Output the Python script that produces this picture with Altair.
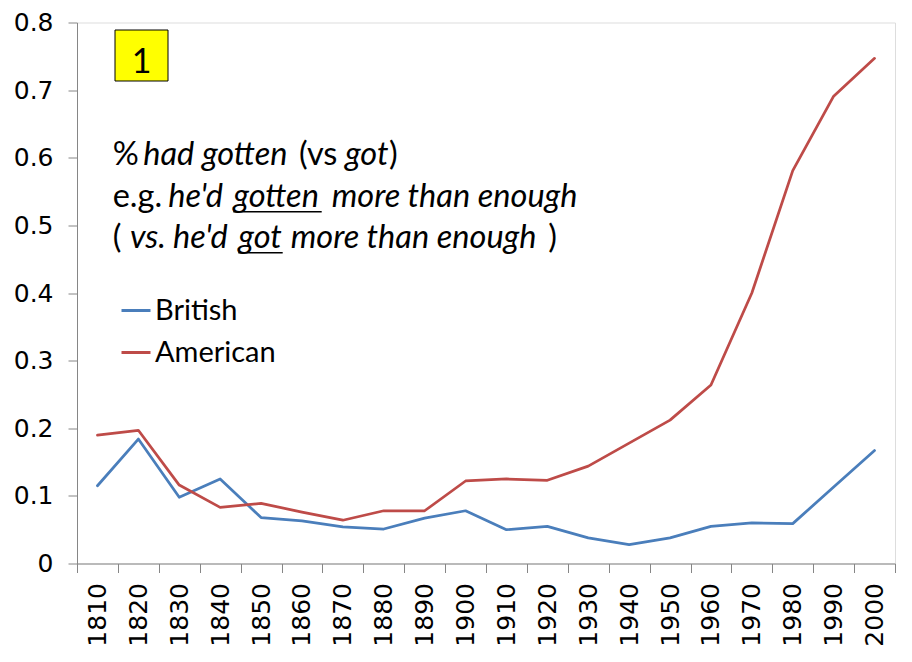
import altair as alt
import pandas as pd

years = [1810, 1820, 1830, 1840, 1850, 1860, 1870, 1880, 1890, 1900,
         1910, 1920, 1930, 1940, 1950, 1960, 1970, 1980, 1990, 2000]
british = [0.115, 0.184, 0.098, 0.125, 0.068, 0.063, 0.054, 0.051, 0.067, 0.078,
           0.050, 0.055, 0.038, 0.028, 0.038, 0.055, 0.060, 0.059, 0.113, 0.167]
american = [0.190, 0.197, 0.116, 0.083, 0.089, 0.076, 0.064, 0.078, 0.078, 0.122,
            0.125, 0.123, 0.144, 0.178, 0.212, 0.264, 0.400, 0.581, 0.691, 0.747]
series_names = ["British", "American"]
series_colors = ["#4A7EBB", "#BE4B48"]
y_ticks = [0, 0.1, 0.2, 0.3, 0.4, 0.5, 0.6, 0.7, 0.8]

rows = []
for name, vals in zip(series_names, [british, american]):
    for yr, v in zip(years, vals):
        rows.append({"year": str(yr), "value": v, "series": name})
df = pd.DataFrame(rows)

W, H = 818, 541

lines = alt.Chart(df).mark_line(strokeWidth=2.75, strokeCap="round", strokeJoin="round").encode(
    x=alt.X("year:N", bandPosition=0.5,
            scale=alt.Scale(type="band", paddingInner=0, paddingOuter=0),
            sort=[str(y) for y in years],
            axis=alt.Axis(title=None, labelAngle=270, labelAlign="right", labelBaseline="middle",
                          tickBand="extent", tickSize=9, labelPadding=10,
                          labelFont="DejaVu Sans", labelFontSize=25, labelColor="black",
                          domainColor="#868686", tickColor="#868686", grid=False)),
    y=alt.Y("value:Q", scale=alt.Scale(domain=[0, 0.8], nice=False, zero=True),
            axis=alt.Axis(title=None, values=y_ticks, format="~g", tickSize=9, labelPadding=15,
                          labelFont="DejaVu Sans", labelFontSize=25, labelColor="black",
                          domainColor="#868686", tickColor="#868686", grid=False)),
    color=alt.Color("series:N", scale=alt.Scale(domain=series_names, range=series_colors),
                    legend=alt.Legend(title=None, orient="none", legendX=43, legendY=272,
                                      symbolType="stroke", symbolSize=841, symbolStrokeWidth=3,
                                      labelFont="Lato", labelFontSize=29, labelColor="black",
                                      labelOffset=3, rowPadding=11, padding=0)),
    detail="series:N",
)

one = pd.DataFrame({"a": [0]})
FS = 32.5


def txt(s, x, y, italic=False, size=FS):
    return alt.Chart(one).mark_text(
        text=s, align="left", baseline="alphabetic", font="Lato", fontSize=size,
        fontStyle="italic" if italic else "normal", color="black"
    ).encode(x=alt.value(x), y=alt.value(y))


def uline(x1, x2, y):
    return alt.Chart(one).mark_rule(color="black", strokeWidth=1.5).encode(
        x=alt.value(x1), x2=alt.value(x2), y=alt.value(y))


box = alt.Chart(one).mark_rect(fill="#FFFF00", stroke="black", strokeWidth=1).encode(
    x=alt.value(38), x2=alt.value(91), y=alt.value(7.5), y2=alt.value(58.5))
box_text = alt.Chart(one).mark_text(text="1", align="center", baseline="alphabetic",
                                    font="Lato", fontSize=34, color="black").encode(
    x=alt.value(64.5), y=alt.value(50.5))

y1, y2, y3 = 142.5, 184.2, 225.2
ann = [
    txt("%", 35.7, y1), txt("had gotten", 66.3, y1, True), txt("(vs", 222, y1),
    txt("got", 268, y1, True), txt(")", 312, y1),
    txt("e.g.", 35.7, y2), txt("he'd", 91.3, y2, True), txt("gotten", 156.3, y2, True),
    uline(156.3, 244.7, 189.2), txt("more than enough", 254.7, y2, True),
    txt("(", 35.7, y3), txt("vs.", 53, y3, True), txt("he'd", 96, y3, True),
    txt("got", 161.3, y3, True), uline(161.3, 205.7, 230.2),
    txt("more than enough", 213.7, y3, True), txt(")", 471.3, y3),
]

chart = alt.layer(lines, box, box_text, *ann).properties(
    width=W, height=H,
    autosize=alt.AutoSizeParams(type="none"),
    padding={"left": 69, "top": 14.5, "right": 9, "bottom": 90},
).configure_view(stroke=None).configure(background="white")

chart.save("out.html", embed_options={"renderer": "svg", "actions": False})
